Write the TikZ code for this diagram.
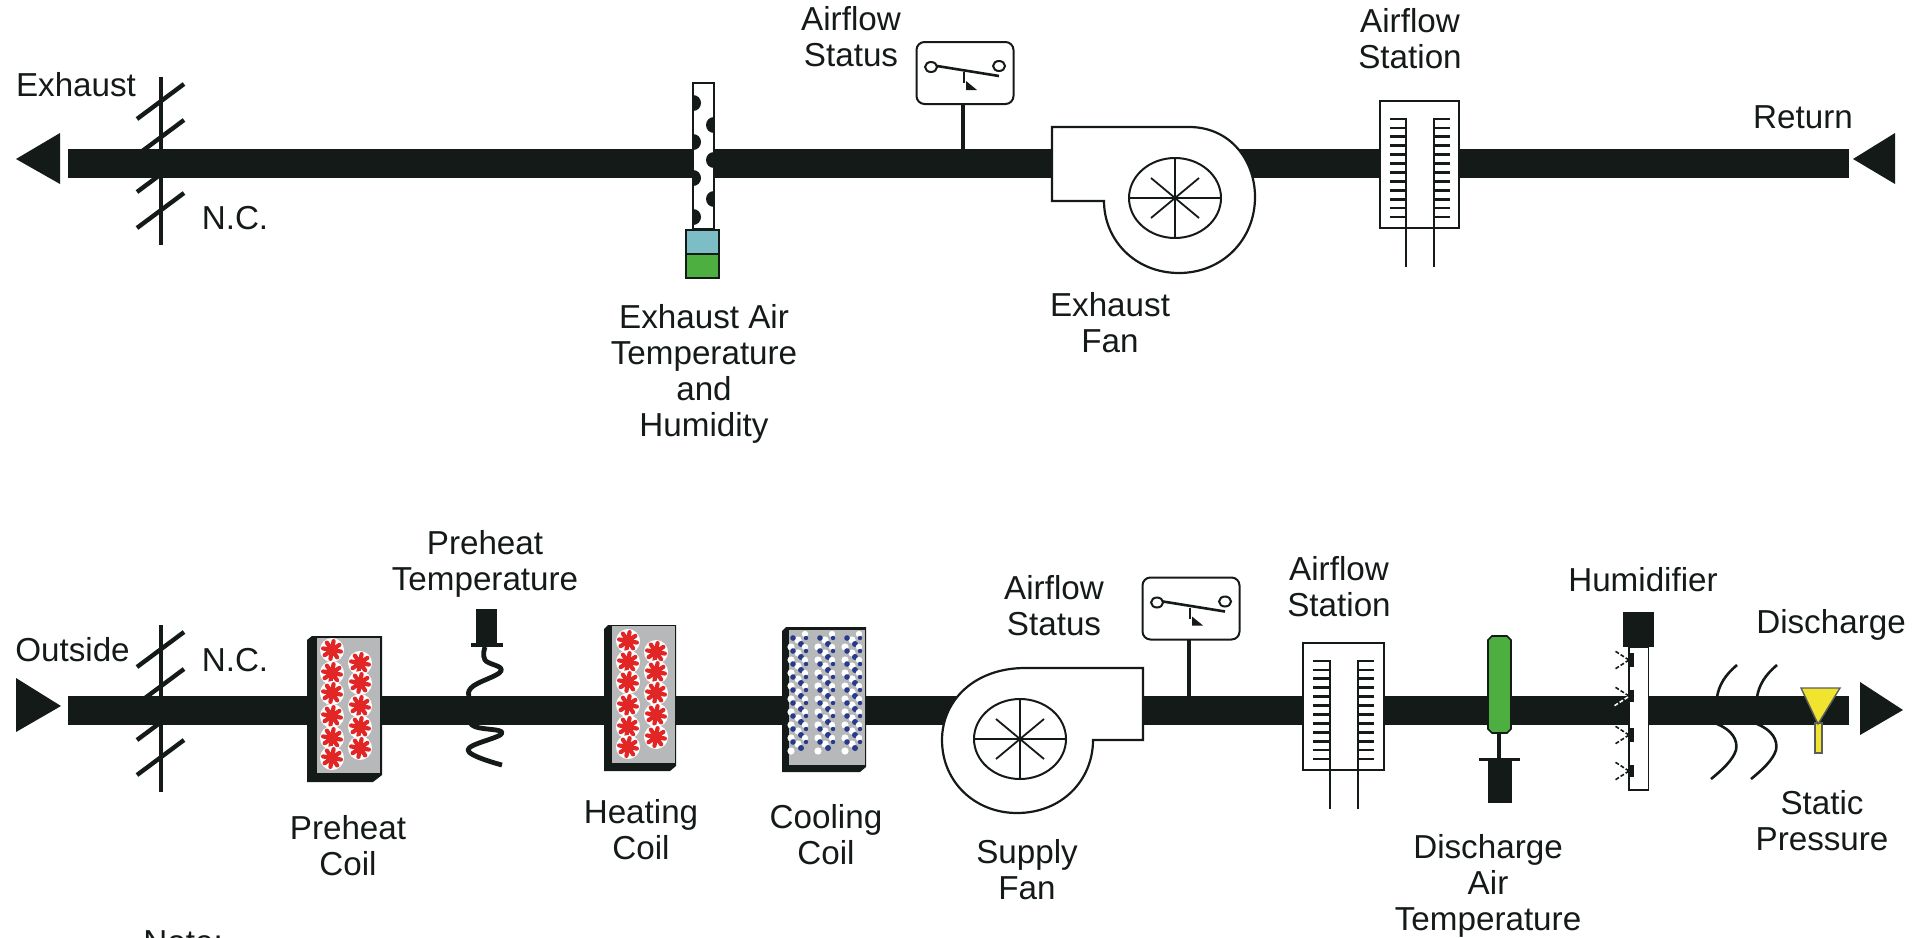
\documentclass[tikz,border=0pt]{standalone}
\usepackage{fontspec}
\setmainfont{Liberation Sans}
\definecolor{ductblk}{RGB}{20,26,23}
\definecolor{coilgrey}{RGB}{182,184,185}
\definecolor{heatred}{RGB}{226,38,38}
\definecolor{chillblue}{RGB}{40,58,140}
\definecolor{probegreen}{RGB}{76,175,63}
\definecolor{probeblue}{RGB}{125,190,198}
\definecolor{funnelyel}{RGB}{240,228,46}
\begin{document}
\begin{tikzpicture}[x=0.5pt, y=-0.5pt,
    lbl/.style={font=\fontsize{16.6}{18}\selectfont, text=ductblk, align=center, inner sep=0pt},
    duct/.style={line width=14.5pt, draw=ductblk},
    swbox/.style={rectangle, rounded corners=4pt, draw=ductblk, line width=1pt, fill=white,
                  minimum width=48.5pt, minimum height=31pt, inner sep=0pt, outer sep=0pt},
    stem/.style={line width=2pt, draw=ductblk},
    comb/.style={line width=1pt, draw=ductblk},
    tick/.style={line width=1.4pt, draw=ductblk},
    spray/.style={line width=0.8pt, dash pattern=on 2pt off 1pt},
    redflake/.pic={
        \fill [white] (0,0) circle (12);
        \foreach \ang in {0,45,...,315}
            \draw [heatred, line width=2.1pt, line cap=round] (0,0) -- (\ang+10:9);
        \fill [heatred] (0,0) circle (6);
    },
    switchbits/.pic={
        \draw [line width=1pt, draw=ductblk] (-34,-6) ellipse (6 and 5);
        \draw [line width=1pt, draw=ductblk] (34,-7) ellipse (6 and 5);
        \draw [line width=1.3pt, draw=ductblk] (-28,-7) -- (34,3);
        \draw [line width=0.8pt, draw=ductblk] (-1,-1) -- (-1,10);
        \fill [ductblk] (1,17) -- (1,8) -- (12,17) -- cycle;
    },
    wheelbits/.pic={
        \draw [line width=1pt, draw=ductblk] (0,0) ellipse (46 and 40);
        \draw [line width=0.9pt, draw=ductblk] (-46,0) -- (46,0);
        \draw [line width=0.9pt, draw=ductblk] (0,-40) -- (0,40);
        \draw [line width=0.9pt, draw=ductblk] (-24,-20) -- (24,20);
        \draw [line width=0.9pt, draw=ductblk] (-24,20) -- (24,-20);
    }]

    \useasboundingbox (0,0) rectangle (1914,937);
    \clip (0,0) rectangle (1914,937);

    % kanali
    \coordinate (retL) at (68,163.5);
    \coordinate (retR) at (1849,163.5);
    \coordinate (supL) at (68,710);
    \coordinate (supR) at (1849,710);
    \draw [duct] (retL) -- (retR);
    \draw [duct] (supL) -- (supR);
    \fill [ductblk] (16,159) -- (60,133) -- (60,184) -- cycle;
    \fill [ductblk] (1853,159) -- (1895,133) -- (1895,184) -- cycle;
    \fill [ductblk] (16,678) -- (61,706) -- (16,732) -- cycle;
    \fill [ductblk] (1860,682) -- (1903,710) -- (1860,735) -- cycle;

    % zaklopke
    \draw [line width=2.4pt, draw=ductblk] (161,77) -- (161,245);
    \foreach \sy in {119,155,192,228}
        \draw [line width=2.2pt, draw=ductblk] (137,\sy) -- (184,\sy-35);
    \draw [line width=2.4pt, draw=ductblk] (161,625) -- (161,792);
    \foreach \sy in {667,704,740,775}
        \draw [line width=2.2pt, draw=ductblk] (137,\sy) -- (184,\sy-35);

    % sonda izduvnog vazduha
    \draw [line width=1pt, draw=ductblk, fill=white] (693,83) rectangle (714,229);
    \begin{scope}
        \clip (693,83) rectangle (714,229);
        \foreach \dy in {103,142,178,217}
            \fill [ductblk] (693,\dy) circle (8);
        \foreach \dy in {125,160,199}
            \fill [ductblk] (714,\dy) circle (8);
    \end{scope}
    \draw [line width=1pt, draw=ductblk, fill=probeblue] (686,230) rectangle (719,254);
    \draw [line width=1pt, draw=ductblk, fill=probegreen] (686,254) rectangle (719,278);

    % prekidaci protoka
    \node (swTop) [swbox] at (965,73) {};
    \coordinate (swTopFoot) at (963,150);
    \draw [stem] (swTop.south -| swTopFoot) -- (swTopFoot);
    \pic at (swTop) {switchbits};
    \node (swSup) [swbox] at (1191,608.5) {};
    \coordinate (swSupFoot) at (1189,696);
    \draw [stem] (swSup.south -| swSupFoot) -- (swSupFoot);
    \pic at (swSup) {switchbits};

    % ventilatori
    \draw [line width=1.1pt, draw=ductblk, fill=white] (1052,127) -- (1189,127)
        .. controls (1230,127) and (1255,160) .. (1255,197)
        .. controls (1255,240) and (1222,273) .. (1179,273)
        .. controls (1135,273) and (1104,240) .. (1104,201) -- (1052,201) -- cycle;
    \pic at (1175,198) {wheelbits};
    \draw [line width=1.1pt, draw=ductblk, fill=white] (1143,668) -- (1025,668)
        .. controls (975,668) and (942,700) .. (942,740)
        .. controls (942,782) and (975,813) .. (1017,813)
        .. controls (1062,813) and (1093,780) .. (1093,740) -- (1143,740) -- cycle;
    \pic at (1020,739) {wheelbits};

    % stanice protoka
    \draw [line width=1pt, draw=ductblk, fill=white] (1380,101) rectangle (1459,228);
    \draw [comb] (1406,118) -- (1406,267);
    \draw [comb] (1434,118) -- (1434,267);
    \foreach \ti in {0,...,11} {
        \draw [tick] (1390,119+\ti*8.9) -- (1406,119+\ti*8.9);
        \draw [tick] (1434,119+\ti*8.9) -- (1450,119+\ti*8.9);
    }
    \draw [line width=1pt, draw=ductblk, fill=white] (1302.5,643) rectangle (1384,770);
    \draw [comb] (1330,660) -- (1330,809);
    \draw [comb] (1358,660) -- (1358,809);
    \foreach \ti in {0,...,11} {
        \draw [tick] (1313,661+\ti*8.9) -- (1330,661+\ti*8.9);
        \draw [tick] (1358,661+\ti*8.9) -- (1374,661+\ti*8.9);
    }

    % grejaci
    \fill [ductblk] (307,782) -- (307,640) -- (312,636) -- (382,636) -- (382,775) -- (373,782) -- cycle;
    \fill [coilgrey] (317,638) rectangle (380,773);
    \foreach \fy in {650,673,693,716,738,758}
        \pic at (332,\fy) {redflake};
    \foreach \fy in {663,683,706,727,748}
        \pic at (360,\fy) {redflake};
    \fill [ductblk] (604,771) -- (604,629) -- (608,625) -- (676,625) -- (676,766) -- (670,771) -- cycle;
    \fill [coilgrey] (612,626) rectangle (675,763);
    \foreach \fy in {641,662,682,705,727,747}
        \pic at (628,\fy) {redflake};
    \foreach \fy in {652,672,693,715,737}
        \pic at (656,\fy) {redflake};

    % hladnjak
    \fill [ductblk] (782,772) -- (782,631) -- (786,627) -- (866,627) -- (866,767) -- (860,772) -- cycle;
    \fill [coilgrey] (789,630) rectangle (865,765);
    \foreach \cx in {798,825,852}
        \foreach \cy in {640,653,...,744} {
            \fill [white] (\cx-7,\cy+7) circle (3.6);
            \fill [white] (\cx,\cy) circle (3.6);
            \fill [white] (\cx+7,\cy-6) circle (3.2);
            \fill [chillblue] (\cx+3,\cy+4) circle (3);
            \fill [chillblue] (\cx-5,\cy-2) circle (2.8);
            \fill [chillblue] (\cx+8,\cy-2) circle (2.2);
        }

    % sonda predgrevanja
    \fill [ductblk] (476,609) rectangle (497,645);
    \fill [ductblk] (471,643) rectangle (503,647);
    \draw [line width=2.4pt, draw=ductblk, line join=round] plot [smooth, tension=0.7] coordinates
        {(485,647) (485,660) (501,671) (471,688) (471,705) (472,725) (502,733) (468,750) (502,765)};

    % sonda potisnog vazduha
    \draw [line width=0.8pt, draw=ductblk, fill=probegreen] (1488,640) -- (1492,636) -- (1507,636)
        -- (1511,640) -- (1511,729) -- (1507,733) -- (1492,733) -- (1488,729) -- cycle;
    \draw [line width=2.4pt, draw=ductblk] (1499,733) -- (1499,759);
    \fill [ductblk] (1479,757.5) rectangle (1520,761);
    \fill [ductblk] (1488,759) rectangle (1512,803);

    % ovlazivac
    \draw [line width=0.7pt, draw=ductblk, fill=white] (1629,647) rectangle (1648.5,790);
    \draw [line width=1.4pt, draw=ductblk] (1629,647) -- (1629,790) -- (1648.5,790);
    \fill [ductblk] (1622.6,612) rectangle (1653.5,647);
    \foreach \hy/\hh in {660/7,696/6,735/7,771/6} {
        \fill [ductblk] (1629,\hy-\hh) rectangle (1634,\hy+\hh);
        \draw [spray, draw=ductblk] (1629,\hy) -- (1615,\hy-9);
        \draw [spray, draw=ductblk] (1629,\hy) -- (1615,\hy+9);
    }
    \draw [spray, draw=white] (1628,697) -- (1614,706);

    % talasi i levak
    \foreach \wx in {0,40} {
        \begin{scope}[shift={(\wx,0)}]
            \draw [line width=1.3pt, draw=ductblk] (1737,665) .. controls (1725,675) and (1719,685) .. (1717,697);
            \draw [line width=1.3pt, draw=ductblk] (1717,724) .. controls (1732,730) and (1738,740) .. (1736,750)
                .. controls (1733,760) and (1722,770) .. (1711,779);
        \end{scope}
    }
    \draw [line width=0.7pt, draw=ductblk!70, fill=funnelyel] (1815,723) rectangle (1822,753);
    \draw [line width=0.7pt, draw=ductblk!70, fill=funnelyel] (1801,688) -- (1840,688) -- (1818,724) -- cycle;

    % natpisi
    \node (exh)    [lbl] at (76,85)      {Exhaust};
    \node (ncTop)  [lbl] at (235,218)    {N.C.};
    \node (eat)    [lbl] at (704,374)    {Exhaust Air\\Temperature\\and\\Humidity};
    \node (afsTop) [lbl] at (851,37)     {Airflow\\Status};
    \node (efan)   [lbl] at (1110,323)   {Exhaust\\Fan};
    \node (afTop)  [lbl] at (1410,39)    {Airflow\\Station};
    \node (ret)    [lbl] at (1803,117)   {Return};
    \node (out)    [lbl] at (72.5,650)   {Outside};
    \node (ncSup)  [lbl] at (235,660)    {N.C.};
    \node (pht)    [lbl] at (485,564)    {Preheat\\Temperature};
    \node (phc)    [lbl] at (348,846)    {Preheat\\Coil};
    \node (htc)    [lbl] at (641,830)    {Heating\\Coil};
    \node (clc)    [lbl] at (826,835)    {Cooling\\Coil};
    \node (sfan)   [lbl] at (1027,870)   {Supply\\Fan};
    \node (afsSup) [lbl] at (1054,606)   {Airflow\\Status};
    \node (afSup)  [lbl] at (1339,587)   {Airflow\\Station};
    \node (dat)    [lbl] at (1488,886)   {Discharge\\Air\\Temperature};
    \node (hum)    [lbl] at (1643,580)   {Humidifier};
    \node (dis)    [lbl] at (1831,625)   {Discharge};
    \node (stp)    [lbl] at (1822,821)   {Static\\Pressure};
    \node (note)   [lbl, anchor=base west] at (143,953) {Note:};
\end{tikzpicture}
\end{document}
